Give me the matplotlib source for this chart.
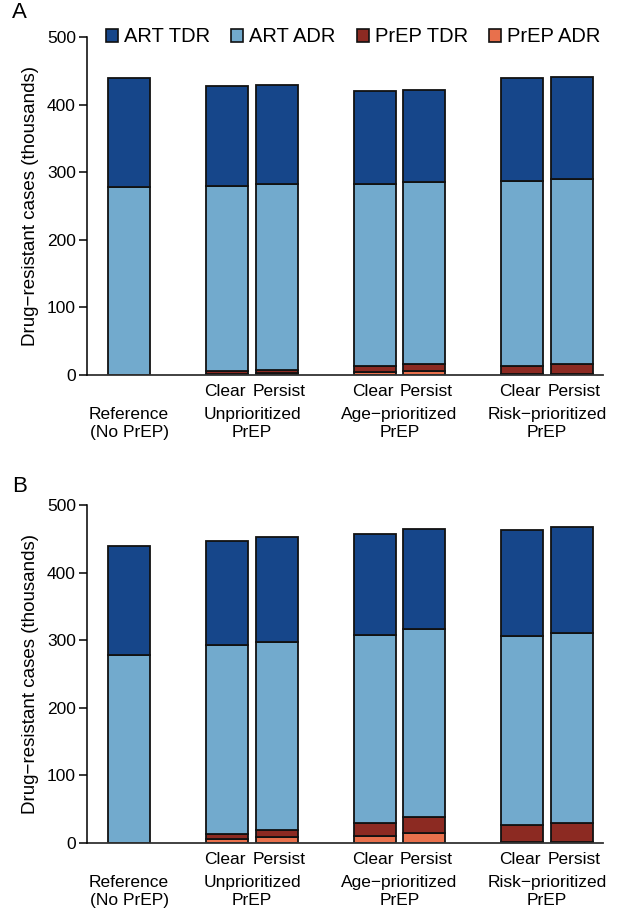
import numpy as np
import matplotlib
matplotlib.use("Agg")
from matplotlib import pyplot as plt
from matplotlib.patches import Patch

plt.rcParams['font.family'] = ['Liberation Sans', 'DejaVu Sans']

# Bar order: Reference, Unprioritized (Clear, Persist), Age (Clear, Persist), Risk (Clear, Persist)
positions = [0, 2, 3, 5, 6, 8, 9]
scenario_labels = ["", "Clear", "Persist", "Clear", "Persist", "Clear", "Persist"]
group_labels = ["Reference\n(No PrEP)", "Unprioritized\nPrEP", "Age\u2212prioritized\nPrEP", "Risk\u2212prioritized\nPrEP"]
group_centers = [0, 2.5, 5.5, 8.5]

series_names = ["ART TDR", "ART ADR", "PrEP TDR", "PrEP ADR"]
colours = ["#16468a", "#72aacd", "#8c2a22", "#e8704c"]

# Panel A (thousands)
a_prep_adr = [0, 2, 3, 5, 6, 1, 1]
a_prep_tdr = [0, 4, 5, 9, 11, 13, 15]
a_art_adr = [278, 274, 274, 269, 269, 273, 274]
a_art_tdr = [162, 148, 147, 137, 136, 152, 151]

# Panel B (thousands)
b_prep_adr = [0, 6, 9, 11, 15, 1, 1]
b_prep_tdr = [0, 8, 10, 19, 23, 26, 29]
b_art_adr = [278, 279, 278, 278, 279, 279, 281]
b_art_tdr = [162, 154, 155, 149, 148, 157, 156]

FS = 12.5


def draw_panel(ax, prep_adr, prep_tdr, art_adr, art_tdr):
    stacks = [prep_adr, prep_tdr, art_adr, art_tdr]
    cols = [colours[3], colours[2], colours[1], colours[0]]
    bottom = np.zeros(len(positions))
    for vals, c in zip(stacks, cols):
        vals = np.array(vals, dtype=float)
        ax.bar(positions, vals, bottom=bottom, width=0.855, color=c,
               edgecolor='#111111', linewidth=1.3)
        bottom += vals

    ax.set_xlim(-0.855, 9.64)
    ax.set_ylim(0, 500)
    ax.set_yticks([0, 100, 200, 300, 400, 500])
    ax.tick_params(axis='y', labelsize=FS, length=5.5, width=1.1, pad=2.5)
    ax.set_xticks([])
    for s in ['top', 'right', 'bottom']:
        ax.spines[s].set_visible(False)
    ax.spines['left'].set_linewidth(1.1)
    ax.axhline(0, color='#333333', linewidth=1.3, clip_on=False)
    ax.set_ylabel("Drug\u2212resistant cases (thousands)", fontsize=13.5, labelpad=6)

    for x, lab in zip(positions, scenario_labels):
        if lab:
            nudge = -0.05 if lab == "Clear" else 0.05
            ax.text(x + nudge, -0.028, lab, transform=ax.get_xaxis_transform(),
                    ha='center', va='top', fontsize=FS)
    for x, lab in zip(group_centers, group_labels):
        ax.text(x, -0.094, lab, transform=ax.get_xaxis_transform(),
                ha='center', va='top', fontsize=FS, linespacing=1.28)


fig = plt.figure(figsize=(6.2, 9.22), dpi=100)
ax_a = fig.add_axes([87 / 620, (922 - 375) / 922, (603 - 87) / 620, 338 / 922])
ax_b = fig.add_axes([87 / 620, (922 - 843) / 922, (603 - 87) / 620, 338 / 922])

draw_panel(ax_a, a_prep_adr, a_prep_tdr, a_art_adr, a_art_tdr)
draw_panel(ax_b, b_prep_adr, b_prep_tdr, b_art_adr, b_art_tdr)

handles = [Patch(facecolor=c, edgecolor='#111111', linewidth=1.2) for c in colours]
ax_a.legend(handles, series_names, ncol=4, frameon=False, fontsize=14.5,
            loc='center left', bbox_to_anchor=(0.036, 1.0), handlelength=0.6,
            handleheight=0.6, handletextpad=0.3, columnspacing=1.05,
            borderaxespad=0, borderpad=0)

fig.text(12 / 620, 1 - 13 / 922, "A", fontsize=16, ha='left', va='center')
fig.text(12 / 620, 1 - 486 / 922, "B", fontsize=16, ha='left', va='center')

fig.savefig("out.png", dpi=100)
